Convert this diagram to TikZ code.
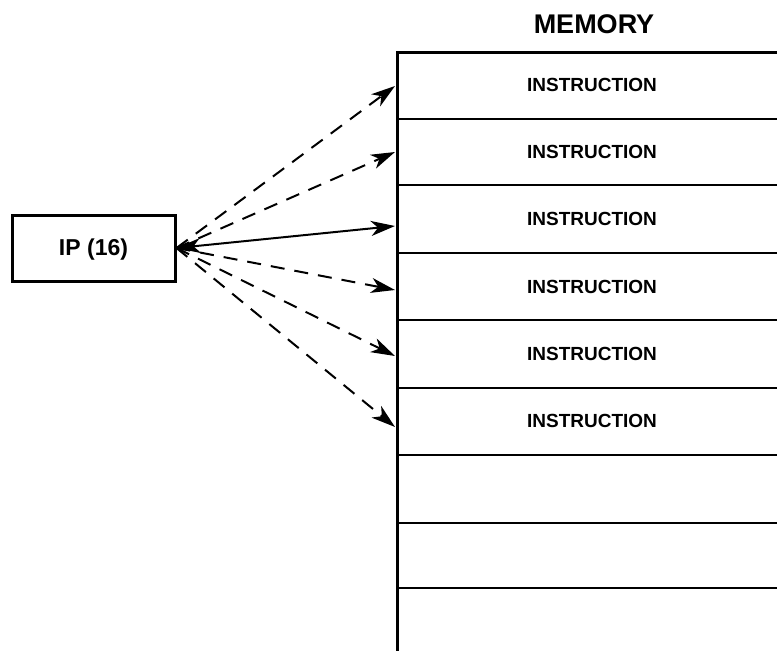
\documentclass[tikz,border=0pt]{standalone}
\usepackage{fontspec}
\setmainfont{Liberation Sans}
\usetikzlibrary{arrows.meta}
\tikzset{
  lbl/.style={font=\fontsize{19}{20}\selectfont\bfseries},
  tip/.tip={Stealth[length=24pt,width=15pt,inset=7pt]},
  ptr/.style={line width=2pt,-tip},
  gap/.style={ptr,dash pattern=on 14pt off 10pt},
}

\begin{document}
\begin{tikzpicture}[x=1pt,y=-1pt]
\useasboundingbox (0,0) rectangle (777,651);

\node[draw,line width=3pt,minimum width=163pt,minimum height=66pt,text depth=2pt,font=\fontsize{23}{24}\selectfont\bfseries] (ip) at (93.5,248) {IP (16)};
\node[font=\fontsize{27}{28}\selectfont\bfseries] (mem) at (594,24) {MEMORY};

\draw[line width=3pt] (777,52) -- (397,52) -- (397,651);
\foreach \y in {119,185,253,320,388,455,523,588}
  \draw[line width=2.5pt] (397,\y) -- (777,\y);

\foreach \n/\y/\t in {1/85/86,2/152/152,3/219/226,4/287/290,5/354/356,6/421/427}{
  \node[lbl] (r\n) at (592,\y) {INSTRUCTION};
  \coordinate (t\n) at (395,\t);
}

\draw[line width=2pt,tip-tip] (ip.east) -- (t3);
\foreach \n in {1,2,4,5,6}
  \draw[gap] (ip.east) -- (t\n);
\end{tikzpicture}
\end{document}
